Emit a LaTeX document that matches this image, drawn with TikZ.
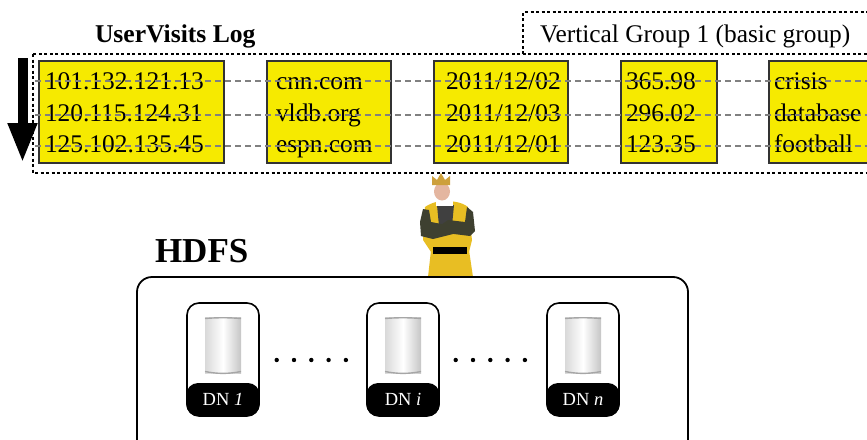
\documentclass[tikz,border=0pt]{standalone}
\usepackage{fontspec}
\setmainfont{Liberation Serif}
\usetikzlibrary{arrows.meta,positioning,calc}

\definecolor{cellyellow}{RGB}{246,234,0}
\definecolor{rowgray}{RGB}{128,128,128}
\definecolor{tunic}{RGB}{232,190,35}
\definecolor{sleeve}{RGB}{62,64,48}
\definecolor{skin}{RGB}{228,182,160}
\definecolor{crowngold}{RGB}{205,160,60}

% a tin can standing for a data node's disk
\tikzset{
  datacan/.pic={
    \shade[left color=gray!30,right color=gray!45,middle color=white] (-18,-28) rectangle (18,28);
    \draw[gray!70,line width=1.4pt] (-18,-27) .. controls (-6,-28) and (6,-28) .. (18,-27);
    \draw[gray!70,line width=1.4pt] (-18,26) .. controls (-6,28.5) and (6,28.5) .. (18,26);
  }
}

\begin{document}
\begin{tikzpicture}[x=1pt,y=-1pt,inner sep=0pt,outer sep=0pt,
  colbox/.style={draw=black!80,fill=cellyellow,line width=1.2pt,anchor=north west,minimum height=102pt},
  cell/.style={anchor=base west,font=\fontsize{25.4}{30}\selectfont},
  rowline/.style={rowgray,line width=2.8pt,dash pattern=on 6pt off 4pt},
  grpline/.style={line width=1.3pt,dash pattern=on 3pt off 2.5pt},
  title/.style={anchor=base west,font=\fontsize{25.6}{30}\selectfont\bfseries},
  dnbox/.style={draw,line width=1.6pt,rounded corners=12pt,minimum width=72pt,minimum height=113pt},
  dnlabel/.style={fill=black,text=white,rounded corners=12pt,minimum width=73.6pt,minimum height=33pt,anchor=south,font=\fontsize{18.5}{20}\selectfont}]

\useasboundingbox (0,0) rectangle (867,439);

% the log file and its column groups
\node[title] (uvlog) at (95,42) {UserVisits Log};
\draw[grpline] (33,54) rectangle (900,173);
\draw[grpline] (523,54) -- (523,12) -- (900,12);
\node[cell] (vgroup) at (540,42) {Vertical Group 1 (basic group)};

\foreach \n/\xl/\w/\tx/\ra/\rb/\rc in {
    1/39/185/45/101.132.121.13/120.115.124.31/125.102.135.45,
    2/267/124/276/cnn.com/vldb.org/espn.com,
    3/434/134/446/{2011/12/02}/{2011/12/03}/{2011/12/01},
    4/621/96/626/365.98/296.02/123.35,
    5/769/120/774/crisis/database/football}{
  \node[colbox,minimum width=\w pt] (col\n) at (\xl,61) {};
  \node[cell] (col\n a) at (\tx,89.5) {\ra};
  \node[cell] (col\n b) at (\tx,121) {\rb};
  \node[cell] (col\n c) at (\tx,152.5) {\rc};
}
\foreach \y in {81,115,146}
  \draw[rowline] (35,\y) -- (880,\y);

% scan direction
\draw[line width=10pt,-{Triangle[width=27pt,length=40pt]}] (22.5,58) -- (22.5,163);

% the king
\fill[tunic] (428,277) -- (431,250) -- (469,250) -- (473,277) -- cycle;
\fill[tunic] (425,207) .. controls (432,202) and (440,201) .. (445,201)
  .. controls (452,201) and (462,202) .. (468,207) -- (472,240) -- (469,252)
  -- (431,252) -- (423,240) -- cycle;
\fill[black!75] (437,205) -- (454,205) -- (452,226) -- (439,226) -- cycle;
\fill[sleeve] (423,209) -- (429,210) -- (431,222) -- (452,226) -- (453,234)
  -- (433,239) -- (421,236) -- (420,222) -- cycle;
\fill[sleeve] (467,207) -- (473,212) -- (475,231) -- (470,236) -- (446,233)
  -- (441,225) -- (448,220) -- (465,222) -- cycle;
\fill[black] (433,247) rectangle (467,254);
\fill[white] (436,198) rectangle (453,206);
\fill[skin] (442,191.5) ellipse [x radius=8pt,y radius=9pt];
\fill[crowngold] (432,185) -- (432,176) -- (437,180) -- (441,173) -- (445,180)
  -- (450,176) -- (450,185) -- cycle;

% HDFS and its data nodes
\node[anchor=base west,font=\fontsize{35}{40}\selectfont\bfseries] (hdfs) at (155,262) {HDFS};
\node[draw,line width=1.8pt,rounded corners=15pt,minimum width=551pt,minimum height=190pt,anchor=north west] (cluster) at (137,277) {};

\node[dnbox] (dn1) at (223,359.5) {};
\node[dnbox,right=108pt of dn1] (dni) {};
\node[dnbox,right=108pt of dni] (dnn) {};
\node[dnlabel] (dn1lbl) at (dn1.south) {DN \textit{1}};
\node[dnlabel] (dnilbl) at (dni.south) {DN \textit{i}};
\node[dnlabel] (dnnlbl) at (dnn.south) {DN \textit{n}};
\path (dn1.north) ++(0,42.5) pic {datacan};
\path (dni.north) ++(0,42.5) pic {datacan};
\path (dnn.north) ++(0,42.5) pic {datacan};

\foreach \k in {-2,...,2}{
  \fill ($(dn1.east)!0.5!(dni.west)+(\k*17.3-1.7,0.5)$) circle (2.2pt);
  \fill ($(dni.east)!0.5!(dnn.west)+(\k*17.3-2.7,0.5)$) circle (2.2pt);
}
\end{tikzpicture}
\end{document}
